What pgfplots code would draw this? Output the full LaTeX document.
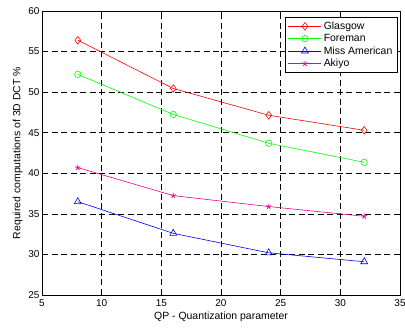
\documentclass[border=0pt]{standalone}
\usepackage{pgfplots}
\pgfplotsset{compat=1.18}
\usepackage{fontspec}
\setmainfont{Liberation Sans}
\usetikzlibrary{plotmarks}
\begin{document}
\begin{tikzpicture}[x=1bp,y=1bp]
\begin{axis}[
  scale only axis,
  width=358bp, height=284bp,
  xmin=5, xmax=35, ymin=25, ymax=60,
  xtick={5,10,...,35}, ytick={25,30,...,60},
  tick align=inside,
  major tick length=4bp,
  every tick/.style={black, line width=0.6pt},
  /pgf/number format/assume math mode=true,
  tick label style={font=\fontsize{10}{11}\selectfont},
  yticklabel style={xshift=1bp},
  xticklabel style={yshift=-1bp},
  label style={font=\fontsize{10.5}{12}\selectfont},
  xlabel={QP - Quantization parameter},
  ylabel={Required computations of 3D DCT \%},
  xlabel style={yshift=1bp},
  ylabel style={yshift=-1bp},
  grid=major,
  major grid style={black, dash pattern=on 6bp off 3.5bp, line width=0.6pt},
  axis line style={black, line width=0.6pt},
  legend style={at={(0.992,0.979)}, anchor=north east, draw=black, line width=0.6pt,
    font=\fontsize{10.5}{12}\selectfont, row sep=-0.5bp, inner sep=2.5bp, cells={anchor=west}},
  legend image code/.code={%
    \draw[mark repeat=2,mark phase=2] plot coordinates {(0bp,0bp) (16.5bp,0bp) (33bp,0bp)};},
]
\addplot[red, line width=0.6pt, mark=diamond, mark size=3.8bp, mark options={solid, line width=0.6pt}]
  coordinates {(8,56.4) (16,50.45) (24,47.15) (32,45.3)};
\addlegendentry{Glasgow}
\addplot[green, line width=0.6pt, mark=o, mark size=3.2bp, mark options={solid, line width=0.6pt}]
  coordinates {(8,52.2) (16,47.25) (24,43.7) (32,41.35)};
\addlegendentry{Foreman}
\addplot[blue, line width=0.6pt, mark=triangle, mark size=4bp, mark options={solid, line width=0.6pt}]
  coordinates {(8,36.5) (16,32.6) (24,30.2) (32,29.1)};
\addlegendentry{Miss American}
\addplot[magenta, line width=0.6pt, mark=star, mark size=2.8bp, mark options={solid, line width=0.8pt}]
  coordinates {(8,40.7) (16,37.25) (24,35.9) (32,34.7)};
\addlegendentry{Akiyo}
\coordinate (SW) at (rel axis cs:0,0);
\coordinate (NE) at (rel axis cs:1,1);
\end{axis}
\pgfresetboundingbox
\path[use as bounding box] ([xshift=-42bp,yshift=-34bp]SW) rectangle ([xshift=5bp,yshift=11bp]NE);
\end{tikzpicture}
\end{document}
